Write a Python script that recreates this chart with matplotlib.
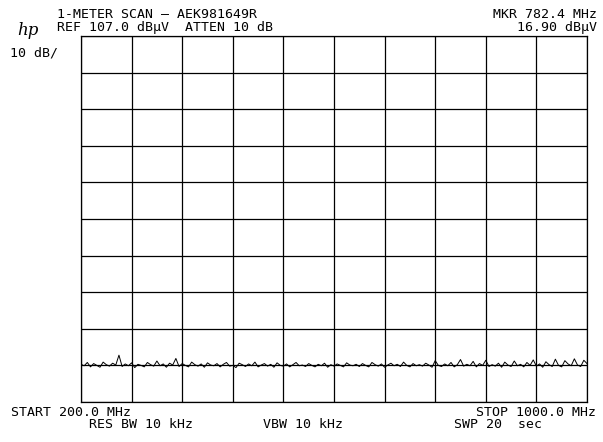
import matplotlib
matplotlib.use("Agg")
import matplotlib.pyplot as plt
import numpy as np

start_mhz = 200.0
stop_mhz = 1000.0
ref_level = 107.0
db_per_div = 10
n_div_x = 10
n_div_y = 10

trace_dbuv = [
    17.3, 16.9, 17.8, 16.6, 17.5, 17.0, 16.5, 17.9, 17.2, 16.8,
    17.6, 17.1, 19.8, 16.7, 17.4, 16.9, 17.7, 16.4, 17.3, 17.0,
    16.6, 17.8, 17.2, 16.8, 18.2, 16.9, 17.4, 16.5, 17.6, 17.1,
    18.9, 16.7, 17.5, 17.0, 16.6, 17.9, 17.2, 16.8, 17.4, 16.5,
    17.7, 17.1, 16.9, 17.5, 16.6, 17.3, 17.8, 16.8, 17.0, 16.4,
    17.6, 17.2, 16.7, 17.4, 16.9, 17.9, 16.6, 17.1, 17.5, 16.8,
    17.3, 16.5, 17.7, 17.0, 16.8, 17.4, 16.6, 17.2, 17.8, 16.9,
    17.1, 16.7, 17.5, 17.0, 16.6, 17.3, 16.9, 17.6, 16.5, 17.2,
    16.8, 17.4, 17.0, 16.6, 17.7, 17.1, 16.9, 17.3, 16.7, 17.5,
    17.0, 16.6, 17.8, 17.2, 16.8, 17.4, 16.5, 17.1, 17.6, 16.9,
    17.3, 16.7, 17.9, 17.0, 16.6, 17.5, 16.9, 17.2, 16.8, 17.6,
    17.1, 16.5, 18.3, 17.0, 16.7, 17.4, 16.9, 17.8, 16.6, 17.2,
    18.6, 16.8, 17.3, 16.9, 18.1, 16.6, 17.5, 17.0, 18.4, 16.7,
    17.2, 16.8, 17.6, 16.5, 17.9, 17.1, 16.7, 18.2, 16.9, 17.3,
    16.6, 17.8, 17.0, 18.5, 16.8, 17.4, 16.5, 18.0, 17.2, 16.7,
    18.7, 17.0, 16.6, 18.3, 17.4, 16.9, 18.8, 17.1, 16.7, 18.4,
    17.5,
]

freqs = np.linspace(start_mhz, stop_mhz, len(trace_dbuv))
bottom_level = ref_level - db_per_div * n_div_y

W, H = 603, 442
fig = plt.figure(figsize=(W / 100, H / 100), dpi=100)
ax = fig.add_axes([81 / W, 1 - 402 / H, (587 - 81) / W, (402 - 36) / H])
ax.set_xlim(start_mhz, stop_mhz)
ax.set_ylim(bottom_level, ref_level)

for f in np.linspace(start_mhz, stop_mhz, n_div_x + 1):
    ax.axvline(f, color="black", lw=0.9)
for l in np.linspace(bottom_level, ref_level, n_div_y + 1):
    ax.axhline(l, color="black", lw=0.9)

ax.plot(freqs, trace_dbuv, color="black", lw=0.7)
ax.set_xticks([])
ax.set_yticks([])
for s in ax.spines.values():
    s.set_linewidth(0.9)

mono = "DejaVu Sans Mono"
fs = 9.5

def t(x, y, s, ha="left", **kw):
    fig.text(x / W, 1 - y / H, s, ha=ha, va="baseline", family=mono, fontsize=fs, **kw)

t(57, 17.5, "1-METER SCAN \u2014 AEK981649R")
t(57, 31.5, "REF 107.0 dB\u00b5V  ATTEN 10 dB")
t(597, 17.5, "MKR 782.4 MHz", ha="right")
t(597, 30.5, "16.90 dB\u00b5V", ha="right")
t(10, 56, "10 dB/")
t(11, 416, "START 200.0 MHz")
t(596, 416, "STOP 1000.0 MHz", ha="right")
t(141, 428.5, "RES BW 10 kHz", ha="center")
t(303, 428.5, "VBW 10 kHz", ha="center")
t(498, 428.5, "SWP 20  sec", ha="center")
fig.text(17 / W, 1 - 35 / H, "hp", family="DejaVu Serif", style="italic",
         fontsize=12, ha="left", va="baseline")

fig.savefig("out.png", dpi=100)
